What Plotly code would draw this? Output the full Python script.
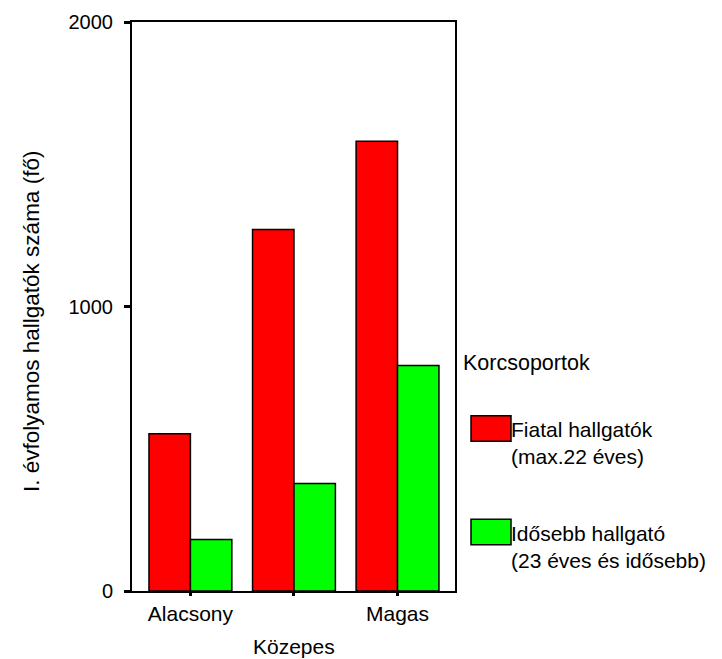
import plotly.graph_objects as go

categories = ["Alacsony", "Közepes", "Magas"]
tick_labels = ["Alacsony", "", "Magas"]
fiatal = [553, 1271, 1581]
idosebb = [181, 378, 793]
series_names = ["Fiatal hallgatók", "Idősebb hallgató"]
series_sub = ["(max.22 éves)", "(23 éves és idősebb)"]
colors = ["#ff0000", "#00ff00"]

W, H = 722, 659
L, T = 132, 22
PW = 455 - 132
PH = 591 - 22
R = W - L - PW
B = H - T - PH

def px(x):
    return (x - L) / PW

def py(y):
    return (T + PH - y) / PH

FONT = "Liberation Sans, Arial, sans-serif"

fig = go.Figure()
for name, vals, col in zip(series_names, [fiatal, idosebb], colors):
    fig.add_trace(go.Bar(x=categories, y=vals, name=name, marker_color=col,
                         marker_line_color="#000000", marker_line_width=1.5,
                         showlegend=False))

fig.update_layout(
    width=W, height=H,
    margin=dict(l=L, r=R, t=T, b=B, autoexpand=False),
    paper_bgcolor="white", plot_bgcolor="white",
    barmode="group", bargap=0.2, bargroupgap=0,
    font=dict(family=FONT, size=20, color="#000000"),
)
fig.update_xaxes(
    range=[-0.564, 2.555], tickmode="array", tickvals=categories, ticktext=tick_labels,
    showline=True, linecolor="black", linewidth=2, mirror=True,
    ticks="outside", ticklen=3, tickwidth=3, tickcolor="black",
    showgrid=False, zeroline=False, tickfont=dict(size=21), automargin=False,
)
fig.update_yaxes(
    range=[0, 2000], tickvals=[0, 1000, 2000],
    showline=True, linecolor="black", linewidth=2, mirror=True,
    ticks="outside", ticklen=6, tickwidth=3, tickcolor="black",
    showgrid=False, zeroline=False, tickfont=dict(size=20), automargin=False,
    ticklabelstandoff=7,
)

# second category label sits lower (staggered)
fig.add_annotation(text=categories[1], xref="x", yref="paper", x=categories[1], y=py(646),
                   showarrow=False, xanchor="center", yanchor="middle", font=dict(size=21))

# y axis title
fig.add_annotation(text="I. évfolyamos hallgatók száma (fő)", xref="paper", yref="paper",
                   x=px(31), y=py(322), textangle=-90, showarrow=False,
                   xanchor="center", yanchor="middle", font=dict(size=22.5))

# legend
fig.add_annotation(text="Korcsoportok", xref="paper", yref="paper", x=px(461), y=py(363),
                   showarrow=False, xanchor="left", yanchor="middle", font=dict(size=21.5))
box_tops = [415.7, 519.3]
for top, name, sub, col in zip(box_tops, series_names, series_sub, colors):
    fig.add_shape(type="rect", xref="paper", yref="paper",
                  x0=px(471), x1=px(511), y0=py(top), y1=py(top + 25.5),
                  fillcolor=col, line=dict(color="black", width=1.5))
    fig.add_annotation(text=name, xref="paper", yref="paper", x=px(509), y=py(top + 14),
                       showarrow=False, xanchor="left", yanchor="middle", font=dict(size=21))
    fig.add_annotation(text=sub, xref="paper", yref="paper", x=px(509), y=py(top + 41),
                       showarrow=False, xanchor="left", yanchor="middle", font=dict(size=21))

fig.write_html("out.html", config={"displayModeBar": False},
               post_script="document.body.style.margin='0';document.body.style.overflow='hidden';")
